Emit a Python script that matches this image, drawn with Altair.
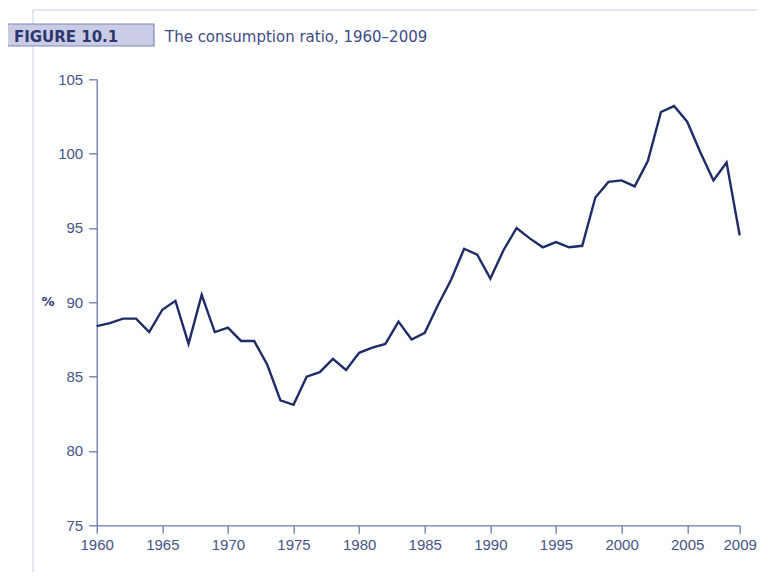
import altair as alt
import pandas as pd

years = list(range(1960, 2010))
ratio = [88.4, 88.6, 88.9, 88.9, 88.0, 89.5, 90.1, 87.2, 90.5, 88.0,
         88.3, 87.4, 87.4, 85.8, 83.4, 83.1, 85.0, 85.3, 86.2, 85.45,
         86.6, 86.95, 87.2, 88.7, 87.5, 87.95, 89.8, 91.5, 93.6, 93.2,
         91.6, 93.5, 95.0, 94.3, 93.7, 94.05, 93.7, 93.8, 97.05, 98.1,
         98.2, 97.8, 99.5, 102.8, 103.2, 102.15, 100.1, 98.2, 99.4, 94.5]
x_ticks = [1960, 1965, 1970, 1975, 1980, 1985, 1990, 1995, 2000, 2005, 2009]
y_ticks = [75, 80, 85, 90, 95, 100, 105]
fig_label = "FIGURE 10.1"
title_text = "The consumption ratio, 1960\u20132009"
y_unit = "%"

df = pd.DataFrame({"year": years, "ratio": ratio})

W, H = 643, 446
LBL = "#46538a"
AX = "#6a78ad"
NAVY = "#1f2c68"
FONT = "DejaVu Sans"
AXFONT = "Liberation Sans"

line = alt.Chart(df).mark_line(color=NAVY, strokeWidth=2.4, clip=False).encode(
    x=alt.X("year:Q",
            scale=alt.Scale(domain=[1960, 2009], nice=False, zero=False),
            axis=alt.Axis(values=x_ticks, format="d", title=None, grid=False,
                          domainColor=AX, tickColor=AX, tickSize=8, domainWidth=1.3,
                          tickWidth=1.3, labelColor=LBL, labelFont=AXFONT, labelFontSize=15,
                          labelPadding=4, labelFlush=False)),
    y=alt.Y("ratio:Q",
            scale=alt.Scale(domain=[75, 105], nice=False, zero=False),
            axis=alt.Axis(values=y_ticks, title=None, grid=False,
                          domainColor=AX, tickColor=AX, tickSize=8, domainWidth=1.3,
                          tickWidth=1.3, labelColor=LBL, labelFont=AXFONT, labelFontSize=15,
                          labelPadding=6)),
)

# frame lines (decorative)
frame_top = alt.Chart(pd.DataFrame({"a": [0]})).mark_rule(color="#dcdeee", strokeWidth=1.5).encode(
    x=alt.value(33 - 96.7), x2=alt.value(765 - 96.7), y=alt.value(10 - 79.3))
frame_left = alt.Chart(pd.DataFrame({"a": [0]})).mark_rule(color="#dcdeee", strokeWidth=1.5).encode(
    x=alt.value(33 - 96.7), y=alt.value(10 - 79.3), y2=alt.value(575 - 79.3))

box = alt.Chart(pd.DataFrame({"a": [0]})).mark_rect(fill="#c9cce4", stroke="#7f88ba", strokeWidth=1.2).encode(
    x=alt.value(4 - 96.7), x2=alt.value(154 - 96.7), y=alt.value(24 - 79.3), y2=alt.value(46 - 79.3))

fig_txt = alt.Chart(pd.DataFrame({"t": [fig_label]})).mark_text(
    font=FONT, fontSize=15, fontWeight="bold", color="#2d3870", align="left", baseline="middle"
).encode(x=alt.value(14 - 96.7), y=alt.value(36.5 - 79.3), text="t:N")

title_txt = alt.Chart(pd.DataFrame({"t": [title_text]})).mark_text(
    font=FONT, fontSize=15, color="#3e4a86", align="left", baseline="middle"
).encode(x=alt.value(165 - 96.7), y=alt.value(36.5 - 79.3), text="t:N")

unit_txt = alt.Chart(pd.DataFrame({"t": [y_unit]})).mark_text(
    font=FONT, fontSize=13, fontWeight="bold", color="#2d3870", align="center", baseline="middle"
).encode(x=alt.value(48 - 96.7), y=alt.value(302 - 79.3), text="t:N")

chart = alt.layer(frame_top, frame_left, box, fig_txt, title_txt, unit_txt, line).properties(
    width=W, height=H,
    autosize=alt.AutoSizeParams(type="none"),
    padding={"left": 88.7, "top": 71.3, "right": 17, "bottom": 47},
    background="white",
).configure_view(stroke=None)

chart.save("out.html", embed_options={"renderer": "svg", "actions": False})
